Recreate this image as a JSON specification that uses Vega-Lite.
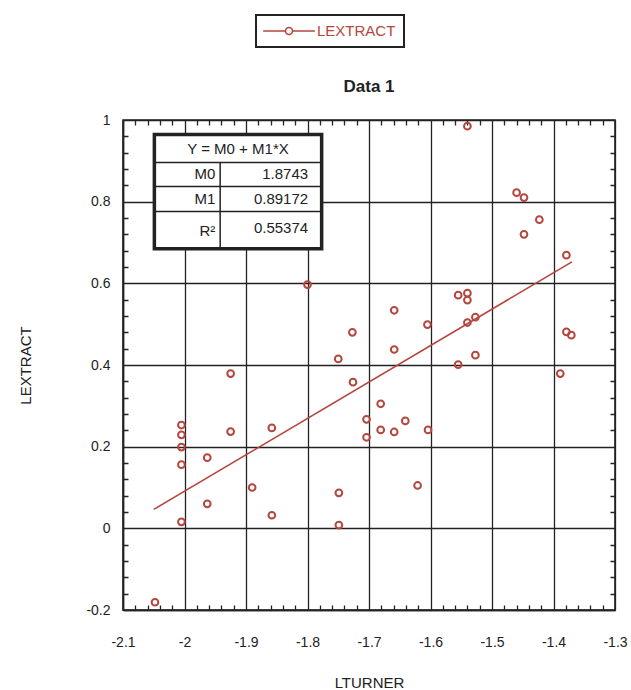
{
  "$schema": "https://vega.github.io/schema/vega-lite/v6.json",
  "width": 492,
  "height": 490,
  "autosize": {"type": "none"},
  "padding": {"left": 123, "top": 120, "right": 16, "bottom": 80},
  "background": "white",
  "title": {"text": "Data 1", "fontSize": 17, "fontWeight": "bold", "font": "Liberation Sans", "color": "#222", "anchor": "middle", "offset": -82},
  "config": {
    "view": {"stroke": "#222", "strokeWidth": 1.6},
    "font": "Liberation Sans",
    "axis": {
      "domainColor": "#222",
      "domainWidth": 1.6,
      "ticks": false,
      "gridColor": "#222",
      "gridWidth": 1.3,
      "labelFont": "Liberation Sans",
      "labelFontSize": 14,
      "labelColor": "#222",
      "labelOverlap": false,
      "labelFlush": false,
      "labelBound": false,
      "titleFont": "Liberation Sans",
      "titleFontSize": 15,
      "titleFontWeight": "normal",
      "titleColor": "#222"
    },
    "legend": {"strokeWidth": 2}
  },
  "resolve": {"axis": {"x": "independent", "y": "independent"}},
  "layer": [
    {
      "data": {"values": [{"LTURNER": -2.05, "fit": 0.0463}, {"LTURNER": -1.37, "fit": 0.6527}]},
      "mark": {"type": "line", "color": "#b5463e", "strokeWidth": 1.6},
      "encoding": {
        "x": {"field": "LTURNER", "type": "quantitative", "scale": {"domain": [-2.1, -1.3], "nice": false, "zero": false}, "axis": null},
        "y": {"field": "fit", "type": "quantitative", "scale": {"domain": [-0.2, 1], "nice": false, "zero": false}, "axis": null}
      }
    },
    {
      "data": {"values": [
        {"LTURNER": -2.048, "LEXTRACT": -0.181},
        {"LTURNER": -2.005, "LEXTRACT": 0.253},
        {"LTURNER": -2.005, "LEXTRACT": 0.229},
        {"LTURNER": -2.005, "LEXTRACT": 0.199},
        {"LTURNER": -2.005, "LEXTRACT": 0.156},
        {"LTURNER": -2.005, "LEXTRACT": 0.016},
        {"LTURNER": -1.963, "LEXTRACT": 0.173},
        {"LTURNER": -1.963, "LEXTRACT": 0.060},
        {"LTURNER": -1.925, "LEXTRACT": 0.379},
        {"LTURNER": -1.925, "LEXTRACT": 0.237},
        {"LTURNER": -1.890, "LEXTRACT": 0.100},
        {"LTURNER": -1.858, "LEXTRACT": 0.246},
        {"LTURNER": -1.858, "LEXTRACT": 0.032},
        {"LTURNER": -1.800, "LEXTRACT": 0.597},
        {"LTURNER": -1.750, "LEXTRACT": 0.415},
        {"LTURNER": -1.749, "LEXTRACT": 0.087},
        {"LTURNER": -1.749, "LEXTRACT": 0.008},
        {"LTURNER": -1.727, "LEXTRACT": 0.480},
        {"LTURNER": -1.726, "LEXTRACT": 0.358},
        {"LTURNER": -1.704, "LEXTRACT": 0.267},
        {"LTURNER": -1.704, "LEXTRACT": 0.223},
        {"LTURNER": -1.681, "LEXTRACT": 0.305},
        {"LTURNER": -1.681, "LEXTRACT": 0.241},
        {"LTURNER": -1.659, "LEXTRACT": 0.534},
        {"LTURNER": -1.659, "LEXTRACT": 0.438},
        {"LTURNER": -1.659, "LEXTRACT": 0.236},
        {"LTURNER": -1.641, "LEXTRACT": 0.263},
        {"LTURNER": -1.621, "LEXTRACT": 0.105},
        {"LTURNER": -1.605, "LEXTRACT": 0.499},
        {"LTURNER": -1.604, "LEXTRACT": 0.241},
        {"LTURNER": -1.555, "LEXTRACT": 0.571},
        {"LTURNER": -1.555, "LEXTRACT": 0.401},
        {"LTURNER": -1.540, "LEXTRACT": 0.985},
        {"LTURNER": -1.540, "LEXTRACT": 0.576},
        {"LTURNER": -1.540, "LEXTRACT": 0.559},
        {"LTURNER": -1.540, "LEXTRACT": 0.504},
        {"LTURNER": -1.527, "LEXTRACT": 0.517},
        {"LTURNER": -1.527, "LEXTRACT": 0.424},
        {"LTURNER": -1.460, "LEXTRACT": 0.822},
        {"LTURNER": -1.448, "LEXTRACT": 0.810},
        {"LTURNER": -1.448, "LEXTRACT": 0.720},
        {"LTURNER": -1.423, "LEXTRACT": 0.756},
        {"LTURNER": -1.389, "LEXTRACT": 0.379},
        {"LTURNER": -1.379, "LEXTRACT": 0.669},
        {"LTURNER": -1.379, "LEXTRACT": 0.481},
        {"LTURNER": -1.371, "LEXTRACT": 0.473}
      ]},
      "mark": {"type": "point", "shape": "circle", "filled": false, "size": 45, "strokeWidth": 2, "opacity": 1},
      "encoding": {
        "x": {
          "field": "LTURNER", "type": "quantitative",
          "scale": {"domain": [-2.1, -1.3], "nice": false, "zero": false},
          "axis": {
            "orient": "bottom", "grid": true,
            "title": "LTURNER", "titleX": 246, "titleY": 72, "titleBaseline": "middle", "titleAlign": "center",
            "labelPadding": 25,
            "labelExpr": "abs(datum.value*10 - round(datum.value*10)) < 0.001 ? '' + datum.value : ''",
            "gridDash": {"condition": {"test": "abs(datum.value*10 - round(datum.value*10)) < 0.001", "value": [1000, 0]}, "value": [5, 480]},
            "values": [-2.1,-2.08,-2.06,-2.04,-2.02,-2,-1.98,-1.96,-1.94,-1.92,-1.9,-1.88,-1.86,-1.84,-1.82,-1.8,-1.78,-1.76,-1.74,-1.72,-1.7,-1.68,-1.66,-1.64,-1.62,-1.6,-1.58,-1.56,-1.54,-1.52,-1.5,-1.48,-1.46,-1.44,-1.42,-1.4,-1.38,-1.36,-1.34,-1.32,-1.3]
          }
        },
        "y": {
          "field": "LEXTRACT", "type": "quantitative",
          "scale": {"domain": [-0.2, 1], "nice": false, "zero": false},
          "axis": {
            "orient": "left", "grid": true,
            "title": "LEXTRACT", "titleX": -98, "titleY": 245, "titleAngle": -90, "titleBaseline": "middle", "titleAlign": "center",
            "labelPadding": 13,
            "labelExpr": "abs(datum.value*5 - round(datum.value*5)) < 0.001 ? '' + datum.value : ''",
            "gridDash": {"condition": {"test": "abs(datum.value*5 - round(datum.value*5)) < 0.001", "value": [1000, 0]}, "value": [5, 482]},
            "values": [-0.2,-0.16,-0.12,-0.08,-0.04,0,0.04,0.08,0.12,0.16,0.2,0.24,0.28,0.32,0.36,0.4,0.44,0.48,0.52,0.56,0.6,0.64,0.68,0.72,0.76,0.8,0.84,0.88,0.92,0.96,1]
          }
        },
        "color": {
          "datum": "LEXTRACT", "type": "nominal",
          "scale": {"range": ["#b5463e"]},
          "legend": {
            "orient": "none", "legendX": 133, "legendY": -105, "title": null,
            "strokeColor": "#222", "padding": 8,
            "symbolType": "M-3.7,0L-0.5,0M0.5,0L3.7,0M-0.5,0A0.5,0.5 0 1,0 0.5,0A0.5,0.5 0 1,0 -0.5,0",
            "symbolSize": 196, "symbolStrokeWidth": 1.6, "symbolOffset": 17,
            "labelOffset": 20, "labelFont": "Liberation Sans", "labelFontSize": 15, "labelColor": "#b5463e"
          }
        }
      }
    },
    {
      "data": {"values": [{"t": "table"}]},
      "mark": {"type": "rect", "fill": "white", "stroke": "#222", "strokeWidth": 3.5},
      "encoding": {
        "x": {"datum": -2.049, "type": "quantitative", "axis": null},
        "x2": {"datum": -1.777},
        "y": {"datum": 0.685, "type": "quantitative", "axis": null},
        "y2": {"datum": 0.9645}
      }
    },
    {
      "data": {"values": [{"t": "row"}]},
      "mark": {"type": "rule", "color": "#222", "strokeWidth": 1.5},
      "encoding": {
        "x": {"datum": -2.049, "type": "quantitative", "axis": null},
        "x2": {"datum": -1.777},
        "y": {"datum": 0.896, "type": "quantitative", "axis": null}
      }
    },
    {
      "data": {"values": [{"t": "row"}]},
      "mark": {"type": "rule", "color": "#222", "strokeWidth": 1.5},
      "encoding": {
        "x": {"datum": -2.049, "type": "quantitative", "axis": null},
        "x2": {"datum": -1.777},
        "y": {"datum": 0.837, "type": "quantitative", "axis": null}
      }
    },
    {
      "data": {"values": [{"t": "row"}]},
      "mark": {"type": "rule", "color": "#222", "strokeWidth": 1.5},
      "encoding": {
        "x": {"datum": -2.049, "type": "quantitative", "axis": null},
        "x2": {"datum": -1.777},
        "y": {"datum": 0.776, "type": "quantitative", "axis": null}
      }
    },
    {
      "data": {"values": [{"t": "col"}]},
      "mark": {"type": "rule", "color": "#222", "strokeWidth": 1.5},
      "encoding": {
        "x": {"datum": -1.942, "type": "quantitative", "axis": null},
        "y": {"datum": 0.685, "type": "quantitative", "axis": null},
        "y2": {"datum": 0.896}
      }
    },
    {
      "data": {"values": [{"t": "Y = M0 + M1*X"}]},
      "mark": {"type": "text", "align": "center", "baseline": "middle", "font": "Liberation Sans", "fontSize": 15, "color": "#222"},
      "encoding": {
        "x": {"datum": -1.913, "type": "quantitative", "axis": null},
        "y": {"datum": 0.930, "type": "quantitative", "axis": null},
        "text": {"field": "t"}
      }
    },
    {
      "data": {"values": [{"t": "M0"}]},
      "mark": {"type": "text", "align": "right", "baseline": "middle", "font": "Liberation Sans", "fontSize": 15, "color": "#222"},
      "encoding": {
        "x": {"datum": -1.950, "type": "quantitative", "axis": null},
        "y": {"datum": 0.8666, "type": "quantitative", "axis": null},
        "text": {"field": "t"}
      }
    },
    {
      "data": {"values": [{"t": "1.8743"}]},
      "mark": {"type": "text", "align": "right", "baseline": "middle", "font": "Liberation Sans", "fontSize": 15, "color": "#222"},
      "encoding": {
        "x": {"datum": -1.799, "type": "quantitative", "axis": null},
        "y": {"datum": 0.8666, "type": "quantitative", "axis": null},
        "text": {"field": "t"}
      }
    },
    {
      "data": {"values": [{"t": "M1"}]},
      "mark": {"type": "text", "align": "right", "baseline": "middle", "font": "Liberation Sans", "fontSize": 15, "color": "#222"},
      "encoding": {
        "x": {"datum": -1.950, "type": "quantitative", "axis": null},
        "y": {"datum": 0.8066, "type": "quantitative", "axis": null},
        "text": {"field": "t"}
      }
    },
    {
      "data": {"values": [{"t": "0.89172"}]},
      "mark": {"type": "text", "align": "right", "baseline": "middle", "font": "Liberation Sans", "fontSize": 15, "color": "#222"},
      "encoding": {
        "x": {"datum": -1.799, "type": "quantitative", "axis": null},
        "y": {"datum": 0.8066, "type": "quantitative", "axis": null},
        "text": {"field": "t"}
      }
    },
    {
      "data": {"values": [{"t": "R²"}]},
      "mark": {"type": "text", "align": "right", "baseline": "middle", "font": "Liberation Sans", "fontSize": 15, "color": "#222"},
      "encoding": {
        "x": {"datum": -1.950, "type": "quantitative", "axis": null},
        "y": {"datum": 0.727, "type": "quantitative", "axis": null},
        "text": {"field": "t"}
      }
    },
    {
      "data": {"values": [{"t": "0.55374"}]},
      "mark": {"type": "text", "align": "right", "baseline": "middle", "font": "Liberation Sans", "fontSize": 15, "color": "#222"},
      "encoding": {
        "x": {"datum": -1.799, "type": "quantitative", "axis": null},
        "y": {"datum": 0.735, "type": "quantitative", "axis": null},
        "text": {"field": "t"}
      }
    }
  ]
}
